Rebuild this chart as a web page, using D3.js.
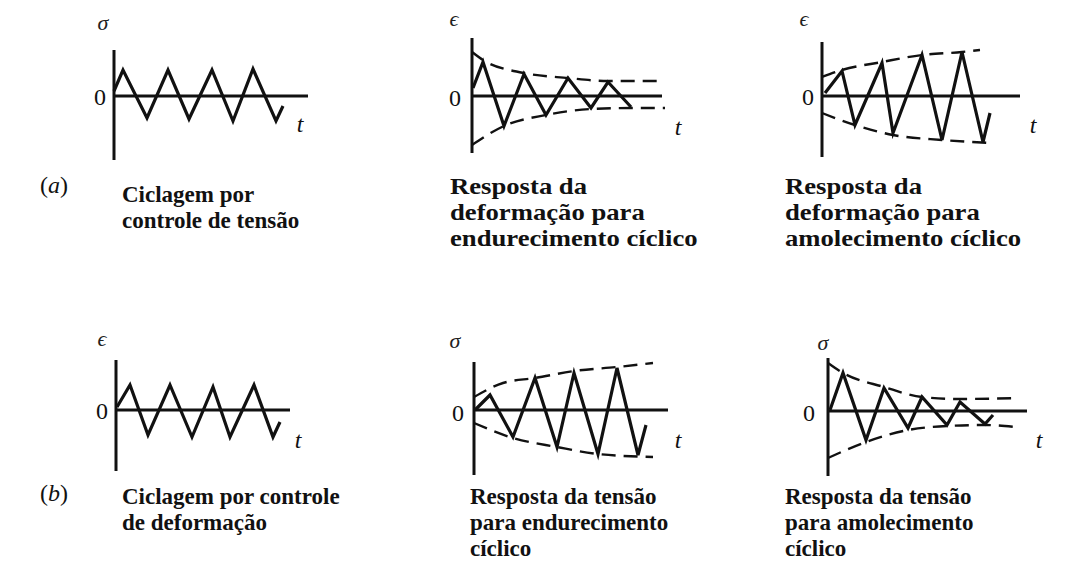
<!DOCTYPE html>
<html>
<head>
<meta charset="utf-8">
<script src="https://cdn.jsdelivr.net/npm/d3@7"></script>
<style>
  html, body { margin: 0; padding: 0; background: #fff; }
  svg { display: block; }
</style>
</head>
<body>
<svg id="chart" width="1069" height="564"></svg>
<script>
// ---- Data: [time, value] pairs for each sketch (value in amplitude units) ----
// (a) stress-controlled cycling: constant stress amplitude
const stressCycle = [[0, 0.2], [0.45, 1.04], [1.65, -0.88], [2.7, 1.04], [3.75, -0.92], [4.9, 1.04], [5.95, -1.0], [6.95, 1.08], [8.1, -1.0], [8.45, -0.4]];
// strain response, cyclic hardening
const strainHardening = [[0.05, 0.32], [0.55, 1.36], [1.6, -1.2], [2.6, 0.88], [3.7, -0.76], [4.8, 0.72], [5.95, -0.48], [6.8, 0.56], [7.95, -0.44]];
const strainHardeningUpper = [[0, 1.76], [0.55, 1.44], [2.6, 0.92], [4.8, 0.72], [6.8, 0.6], [9.4, 0.6]];
const strainHardeningLower = [[0, -1.96], [1.6, -1.2], [3.7, -0.76], [5.95, -0.52], [7.95, -0.48], [9.65, -0.48]];
// strain response, cyclic softening
const strainSoftening = [[0.15, 0.12], [1.0, 1.0], [1.65, -1.16], [3.0, 1.32], [3.55, -1.48], [5.0, 1.64], [6.0, -1.76], [7.0, 1.76], [8.05, -1.84], [8.4, -0.68]];
const strainSofteningUpper = [[0, 0.76], [1.0, 1.04], [3.0, 1.36], [5.0, 1.64], [7.0, 1.76], [7.9, 1.84]];
const strainSofteningLower = [[0, -0.68], [1.65, -1.16], [3.55, -1.56], [6.0, -1.76], [8.4, -1.88]];
// (b) strain-controlled cycling: constant strain amplitude
const strainCycle = [[0.05, 0.12], [0.7, 1.0], [1.6, -1.0], [2.7, 1.0], [3.8, -1.08], [4.85, 0.92], [5.7, -1.08], [6.9, 1.0], [7.85, -1.08], [8.2, -0.48]];
// stress response, cyclic hardening
const stressHardening = [[0.05, 0.0], [0.8, 0.6], [1.95, -1.08], [3.05, 1.28], [4.15, -1.48], [5.0, 1.48], [6.2, -1.76], [7.15, 1.68], [8.2, -1.8], [8.6, -0.6]];
const stressHardeningUpper = [[0, 0.52], [1.45, 1.08], [3.05, 1.28], [5.0, 1.56], [7.15, 1.72], [8.95, 1.88]];
const stressHardeningLower = [[0, -0.52], [1.95, -1.12], [4.15, -1.48], [6.2, -1.76], [8.95, -1.88]];
// stress response, cyclic softening
const stressSoftening = [[0.1, 0.04], [0.75, 1.52], [1.9, -1.16], [2.8, 0.92], [4.0, -0.68], [4.7, 0.56], [5.95, -0.56], [6.6, 0.36], [7.85, -0.52], [8.25, -0.16]];
const stressSofteningUpper = [[0, 1.92], [0.75, 1.52], [2.8, 0.96], [4.7, 0.56], [6.6, 0.48], [9.5, 0.52]];
const stressSofteningLower = [[0, -1.88], [1.9, -1.24], [4.0, -0.76], [5.95, -0.6], [7.85, -0.56], [9.35, -0.64]];

// ---- Text ----
const rowTags = ["(", "a", ")", "(", "b", ")"];
const captionsA = [
  ["Ciclagem por", "controle de tensão"],
  ["Resposta da", "deformação para", "endurecimento cíclico"],
  ["Resposta da", "deformação para", "amolecimento cíclico"]
];
const captionsB = [
  ["Ciclagem por controle", "de deformação"],
  ["Resposta da tensão", "para endurecimento", "cíclico"],
  ["Resposta da tensão", "para amolecimento", "cíclico"]
];
const yLabels = ["σ", "ϵ", "ϵ", "ϵ", "σ", "σ"];

// ---- Layout ----
const panels = [
  { ox: 114, oy: 96,  top: 1.84, bottom: -2.56, tEnd: 9.7,  wave: stressCycle,     sym: [103, 22],  zero: [100, 97],  tl: [300, 124] },
  { ox: 472, oy: 96,  top: 2.32, bottom: -2.28, tEnd: 9.5,  wave: strainHardening, up: strainHardeningUpper, lo: strainHardeningLower, sym: [454, 18],  zero: [455, 98],  tl: [678, 127] },
  { ox: 822, oy: 96,  top: 2.16, bottom: -2.44, tEnd: 9.9,  wave: strainSoftening, up: strainSofteningUpper, lo: strainSofteningLower, sym: [804, 18],  zero: [808, 97],  tl: [1033, 125] },
  { ox: 116, oy: 410, top: 2.0,  bottom: -2.44, tEnd: 8.7,  wave: strainCycle,     sym: [102, 338], zero: [102, 411], tl: [298, 440] },
  { ox: 474, oy: 410, top: 1.92, bottom: -2.6,  tEnd: 9.7,  wave: stressHardening, up: stressHardeningUpper, lo: stressHardeningLower, sym: [455, 340], zero: [458, 413], tl: [678, 440] },
  { ox: 828, oy: 411, top: 2.12, bottom: -2.6,  tEnd: 9.95, wave: stressSoftening, up: stressSofteningUpper, lo: stressSofteningLower, sym: [823, 342], zero: [809, 413], tl: [1039, 440] }
];

const svg = d3.select("#chart");
const SERIF = "'Liberation Serif', 'Times New Roman', serif";

panels.forEach((p, i) => {
  const x = d3.scaleLinear().domain([0, 10]).range([p.ox, p.ox + 200]);
  const y = d3.scaleLinear().domain([-1, 1]).range([p.oy + 25, p.oy - 25]);
  const line = d3.line().x(d => x(d[0])).y(d => y(d[1]));
  const g = svg.append("g");

  // axes
  g.append("line")
    .attr("x1", x(0)).attr("x2", x(0))
    .attr("y1", y(p.top)).attr("y2", y(p.bottom))
    .attr("stroke", "#111").attr("stroke-width", 3);
  g.append("line")
    .attr("x1", x(0)).attr("x2", x(p.tEnd))
    .attr("y1", y(0)).attr("y2", y(0))
    .attr("stroke", "#111").attr("stroke-width", 3);

  // envelopes
  [p.up, p.lo].forEach(env => {
    if (!env) return;
    g.append("path").datum(env)
      .attr("d", line.curve(d3.curveMonotoneX))
      .attr("fill", "none").attr("stroke", "#111")
      .attr("stroke-width", 2.4).attr("stroke-dasharray", "14,8");
  });

  // cyclic signal
  g.append("path").datum(p.wave)
    .attr("d", d3.line().x(d => x(d[0])).y(d => y(d[1])))
    .attr("fill", "none").attr("stroke", "#111")
    .attr("stroke-width", 3.2).attr("stroke-linejoin", "miter");

  // labels
  g.append("text").attr("x", p.sym[0]).attr("y", p.sym[1])
    .attr("text-anchor", "middle").attr("dominant-baseline", "central")
    .attr("font-family", SERIF).attr("font-style", "italic").attr("font-size", 22)
    .attr("fill", "#222").text(yLabels[i]);
  g.append("text").attr("x", p.zero[0]).attr("y", p.zero[1])
    .attr("text-anchor", "middle").attr("dominant-baseline", "central")
    .attr("font-family", SERIF).attr("font-size", 24)
    .attr("fill", "#111").text("0");
  g.append("text").attr("x", p.tl[0]).attr("y", p.tl[1])
    .attr("text-anchor", "middle").attr("dominant-baseline", "central")
    .attr("font-family", SERIF).attr("font-style", "italic").attr("font-size", 24)
    .attr("fill", "#111").text("t");
});

// row tags (a) / (b)
[[40, 193], [40, 501]].forEach((pos, r) => {
  const t = svg.append("text").attr("x", pos[0]).attr("y", pos[1])
    .attr("font-family", SERIF).attr("font-size", 24).attr("fill", "#111");
  t.append("tspan").text(rowTags[r * 3]);
  t.append("tspan").attr("font-style", "italic").text(rowTags[r * 3 + 1]);
  t.append("tspan").text(rowTags[r * 3 + 2]);
});

// captions (stretch widens the glyphs horizontally)
function caption(lines, x0, y0, stretch) {
  const t = svg.append("text")
    .attr("transform", `translate(${x0},0) scale(${stretch},1)`)
    .attr("font-family", SERIF).attr("font-weight", "bold")
    .attr("font-size", 23).attr("fill", "#111");
  lines.forEach((s, k) => {
    t.append("tspan").attr("x", 0).attr("y", y0 + k * 26).text(s);
  });
}
caption(captionsA[0], 122, 202, 1);
caption(captionsA[1], 450, 194, 1.16);
caption(captionsA[2], 785, 194, 1.16);
caption(captionsB[0], 122, 504, 1);
caption(captionsB[1], 470, 504, 1);
caption(captionsB[2], 785, 504, 1);
</script>
</body>
</html>
